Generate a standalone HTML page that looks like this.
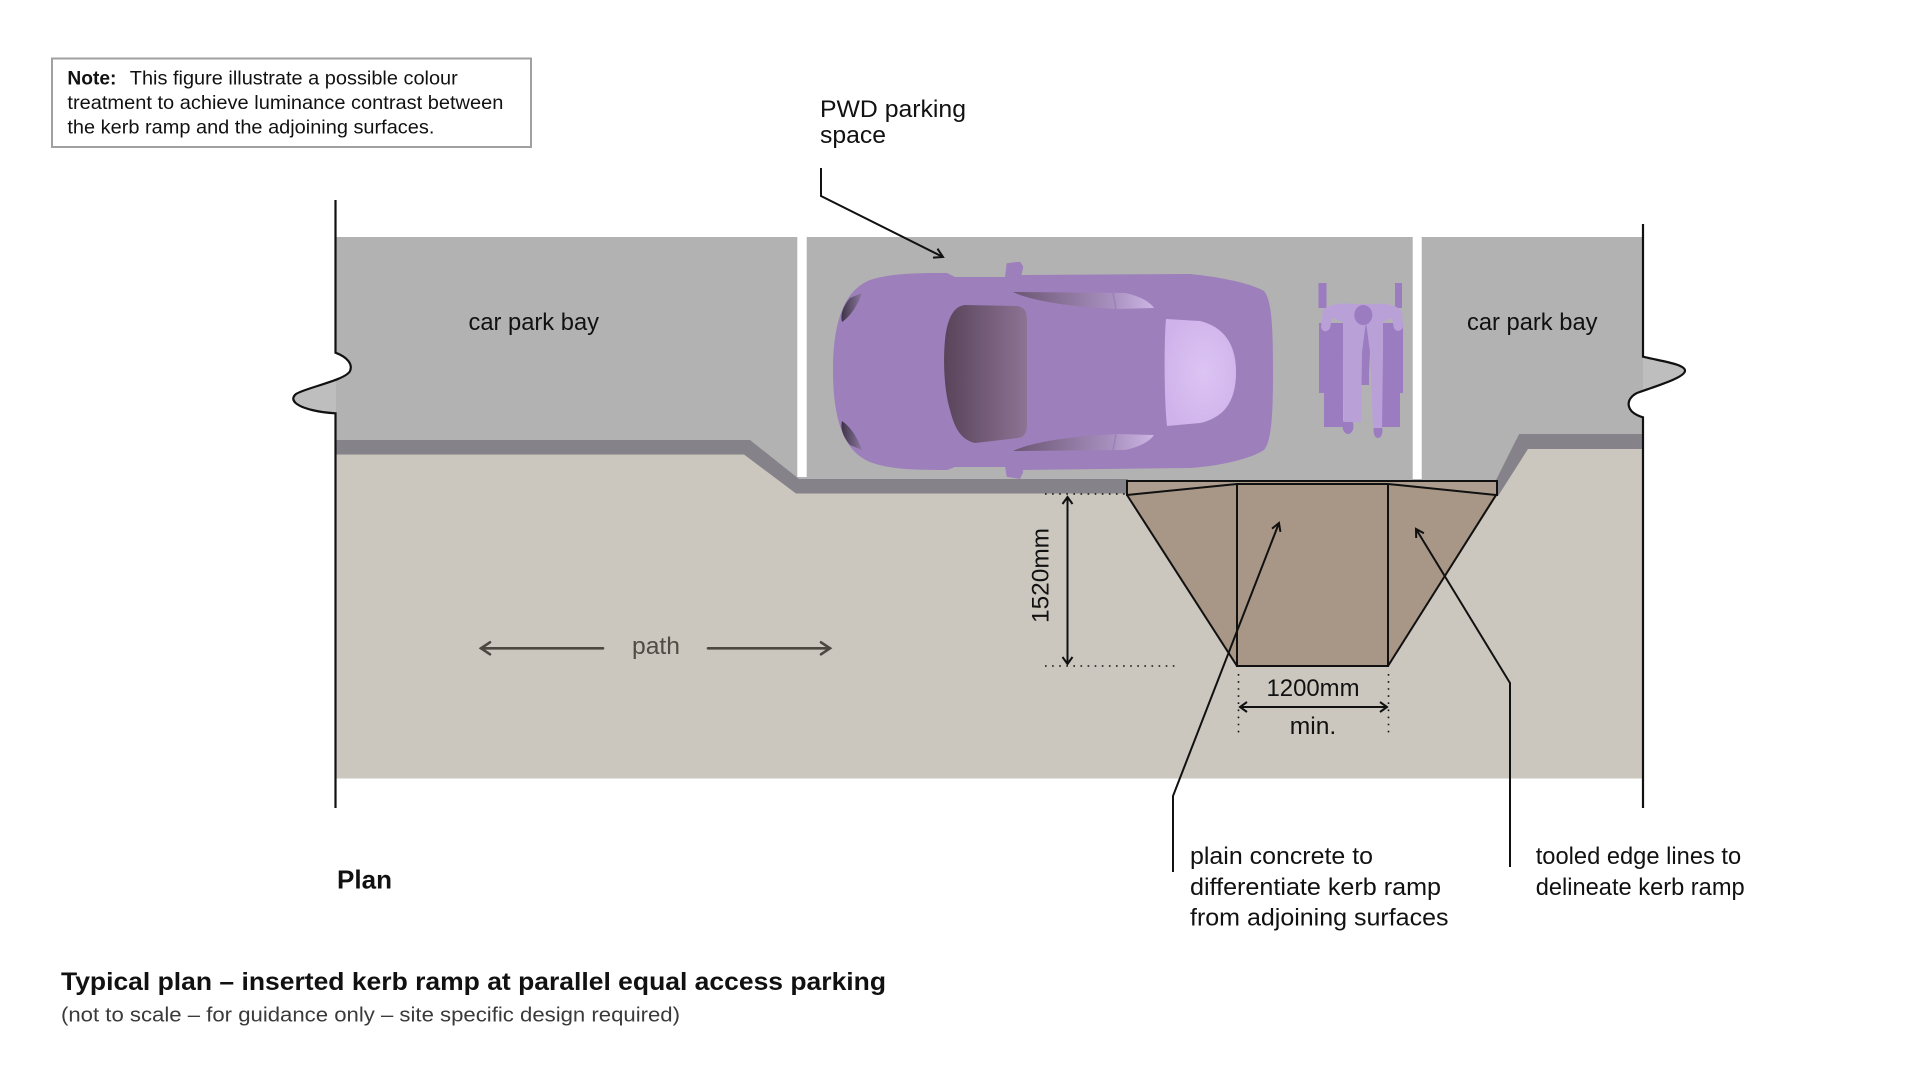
<!DOCTYPE html>
<html>
<head>
<meta charset="utf-8">
<style>
  html, body { margin: 0; padding: 0; background: #ffffff; }
  svg { display: block; }
  text { font-family: "Liberation Sans", Arial, sans-serif; fill: #111111; }
</style>
</head>
<body>
<svg width="1920" height="1080" viewBox="0 0 1920 1080" xmlns="http://www.w3.org/2000/svg">
  <defs>
    <clipPath id="bayclip">
      <path d="M336,237 L1643,237 L1643,356.7 C1660,361 1685,364 1685,370.7 C1685,378 1650,388 1637,393 C1625,399 1625,412 1643,417.3 L1643,434 L1519,434 L1496,480 L799,480 L750,440 L336,440 L336,413.3 C330,413 322,412.5 312,410 C296,406 289,400 296,394 C305,388 346,380 350,371 C353,364 347,357 336,352.7 Z"/>
    </clipPath>
    <linearGradient id="wind" x1="0" y1="0" x2="1" y2="0">
      <stop offset="0" stop-color="#58445a"/>
      <stop offset="1" stop-color="#8e7394"/>
    </linearGradient>
    <radialGradient id="rear" cx="0.55" cy="0.5" r="0.6">
      <stop offset="0" stop-color="#dcc4f4"/>
      <stop offset="1" stop-color="#cfb2ea"/>
    </radialGradient>
    <linearGradient id="side" x1="0" y1="0" x2="1" y2="0">
      <stop offset="0" stop-color="#6a5672"/>
      <stop offset="0.7" stop-color="#a890bf"/>
      <stop offset="1" stop-color="#cdb5e4"/>
    </linearGradient>
    <linearGradient id="head" x1="0" y1="0" x2="1" y2="0">
      <stop offset="0" stop-color="#3f3346"/>
      <stop offset="1" stop-color="#8c78a0"/>
    </linearGradient>
  </defs>

  <!-- Note box -->
  <rect x="52" y="58.5" width="479" height="88.5" fill="#ffffff" stroke="#a0a0a0" stroke-width="2"/>
  <text x="67.4" y="84.5" font-size="19.5" font-weight="bold" textLength="49" lengthAdjust="spacingAndGlyphs">Note:</text>
  <text x="129.8" y="84.5" font-size="19.5" textLength="328" lengthAdjust="spacingAndGlyphs">This figure illustrate a possible colour</text>
  <text x="67.4" y="109" font-size="19.5" textLength="436" lengthAdjust="spacingAndGlyphs">treatment to achieve luminance contrast between</text>
  <text x="67.4" y="133.5" font-size="19.5" textLength="367" lengthAdjust="spacingAndGlyphs">the kerb ramp and the adjoining surfaces.</text>

  <!-- PWD label -->
  <text x="820" y="117" font-size="24" textLength="146" lengthAdjust="spacingAndGlyphs">PWD parking</text>
  <text x="820" y="143" font-size="24" textLength="66" lengthAdjust="spacingAndGlyphs">space</text>

  <!-- Path (beige) -->
  <rect x="336" y="440" width="1307" height="338.5" fill="#cbc7bf"/>

  <!-- Bays -->
  <path d="M336,237 L1643,237 L1643,356.7 C1660,361 1685,364 1685,370.7 C1685,378 1650,388 1637,393 C1625,399 1625,412 1643,417.3 L1643,434 L1519,434 L1496,480 L799,480 L750,440 L336,440 L336,413.3 C330,413 322,412.5 312,410 C296,406 289,400 296,394 C305,388 346,380 350,371 C353,364 347,357 336,352.7 Z" fill="#b2b2b2"/>
  <rect x="280" y="350" width="56" height="70" fill="#bebebe" clip-path="url(#bayclip)"/>
  <rect x="1643" y="350" width="50" height="70" fill="#bebebe" clip-path="url(#bayclip)"/>

  <!-- Kerb bands -->
  <path d="M336,440 L750,440 L799,479 L1128,479 L1128,493.5 L796,493.5 L744,454.5 L336,454.5 Z" fill="#858289"/>
  <path d="M1496,480 L1519,434 L1643,434 L1643,449 L1528,449 L1498,496 Z" fill="#858289"/>

  <!-- White gaps between bays -->
  <rect x="797.3" y="236" width="9.4" height="241" fill="#ffffff"/>
  <rect x="1412.7" y="236" width="9" height="243" fill="#ffffff"/>

  <!-- PWD leader (on top of bay) -->
  <polyline points="821,168 821,196 943,257" fill="none" stroke="#111" stroke-width="2"/>
  <polyline points="937.5,248.7 943,257 933,257.6" fill="none" stroke="#111" stroke-width="2"/>

  <!-- Bay labels -->
  <text x="468.5" y="330" font-size="24" textLength="130.5" lengthAdjust="spacingAndGlyphs">car park bay</text>
  <text x="1467" y="330" font-size="24" textLength="130.5" lengthAdjust="spacingAndGlyphs">car park bay</text>

  <!-- Car -->
  <path d="M1005,277 L1006.7,263.3 L1020,261.7 L1023.3,266.7 L1021,277 Z" fill="#9d7fbb"/>
  <path d="M1005,466 L1006.7,476.7 L1020,479 L1023.3,471.7 L1021,466 Z" fill="#9d7fbb"/>
  <path d="M833,371 C833,320 845,290 870,280 C890,273 920,273 947,273 L955,277 L1005,277 L1022,275 L1190,274 C1220,277 1250,283 1264,291 C1272,300 1273,330 1273,371 C1273,412 1272,440 1264,450 C1250,459 1220,466 1190,468 L1022,470 L1005,467 L955,467 L947,470 C920,470 890,470 870,462 C845,452 833,422 833,371 Z" fill="#9d7fbb"/>
  <path d="M965,305 L1018,306 C1025,308 1027,312 1027,320 L1027,425 C1027,433 1024,437 1018,438 L975,443 C962,440 955,430 950,410 C944,390 943,360 945,340 C947,320 953,306 965,305 Z" fill="url(#wind)"/>
  <path d="M1166,319 L1200,321 C1220,326 1236,340 1236,372 C1236,404 1222,418 1200,423 L1167,426 C1164,400 1164,340 1166,319 Z" fill="url(#rear)"/>
  <path d="M1013,292 L1125,293 C1140,296 1150,302 1154,308 L1118,309 L1100,308 C1060,305 1030,300 1013,292 Z" fill="url(#side)"/>
  <path d="M1013,451 L1125,450 C1140,447 1150,441 1154,435 L1118,434 L1100,435 C1060,438 1030,443 1013,451 Z" fill="url(#side)"/>
  <line x1="1113" y1="293" x2="1116" y2="309" stroke="#9d7fbb" stroke-width="1.5"/>
  <line x1="1113" y1="450" x2="1116" y2="434" stroke="#9d7fbb" stroke-width="1.5"/>
  <path d="M850,298 C843,306 840,315 842,322 C849,317 856,309 862,293 Z" fill="url(#head)"/>
  <path d="M850,445 C843,437 840,428 842,421 C849,426 856,434 862,450 Z" fill="url(#head)"/>

  <!-- Wheelchair + person -->
  <g fill="#9b7cc0">
    <rect x="1318.5" y="283" width="8" height="25"/>
    <rect x="1395" y="283" width="7" height="25"/>
    <rect x="1319" y="323" width="24" height="70"/>
    <rect x="1324" y="390" width="19" height="37"/>
    <rect x="1382" y="323" width="21" height="70"/>
    <rect x="1382" y="390" width="18" height="37"/>
    <rect x="1355" y="345" width="14" height="40"/>
    <ellipse cx="1348" cy="426" rx="5.5" ry="8"/>
    <ellipse cx="1378" cy="431" rx="4.5" ry="7"/>
  </g>
  <g fill="#b9a1d8">
    <path d="M1323,310 C1330,303 1345,303 1352,304 L1374,304 C1385,303 1398,305 1402,312 L1403,327 C1401,332 1396,332 1394,328 L1392,318 L1383,322 L1383,350 L1382,428 L1373,428 L1370,352 L1362,352 L1361,422 L1344,422 L1343,352 L1343,322 L1332,318 L1330,328 C1327,333 1322,332 1321,327 Z"/>
  </g>
  <polygon points="1362,352 1366,322 1370,352 1369,372 1363,372" fill="#9b7cc0"/>
  <ellipse cx="1363.3" cy="315" rx="9" ry="10" fill="#9b7cc0"/>

  <!-- Kerb ramp -->
  <path d="M1127,481 L1497,481 L1497,496 L1388,666 L1237,666 L1127,496 Z" fill="#a89787"/>
  <path d="M1127,481 L1497,481 L1497,496 L1496,495 L1388,484 L1237,484 L1127,495 Z" fill="#ad9d8e"/>
  <g fill="none" stroke="#111" stroke-width="2" stroke-linejoin="miter">
    <polyline points="1127,496 1127,481 1497,481 1497,496"/>
    <polyline points="1127,495 1237,484 1388,484 1496,495"/>
    <line x1="1127" y1="495" x2="1237" y2="666"/>
    <line x1="1496" y1="495" x2="1388" y2="666"/>
    <polyline points="1237,484 1237,666 1388,666 1388,484"/>
  </g>

  <!-- 1520mm dimension -->
  <g stroke="#111" stroke-width="1.6" stroke-dasharray="1.6,5.5" fill="none">
    <line x1="1045" y1="494" x2="1127" y2="494"/>
    <line x1="1045" y1="666" x2="1175" y2="666"/>
    <line x1="1238.5" y1="674" x2="1238.5" y2="734"/>
    <line x1="1388.5" y1="674" x2="1388.5" y2="734"/>
  </g>
  <g stroke="#111" stroke-width="2" fill="none">
    <line x1="1067.5" y1="497" x2="1067.5" y2="664"/>
    <polyline points="1062.5,504 1067.5,497 1072.5,504"/>
    <polyline points="1062.5,657 1067.5,664 1072.5,657"/>
    <line x1="1240" y1="707" x2="1387" y2="707"/>
    <polyline points="1247,702 1240,707 1247,712"/>
    <polyline points="1380,702 1387,707 1380,712"/>
  </g>
  <text transform="translate(1048.6,575.5) rotate(-90)" text-anchor="middle" font-size="24" textLength="95" lengthAdjust="spacingAndGlyphs">1520mm</text>
  <text x="1313" y="696" text-anchor="middle" font-size="24" textLength="93" lengthAdjust="spacingAndGlyphs">1200mm</text>
  <text x="1313" y="734" text-anchor="middle" font-size="24" textLength="46.5" lengthAdjust="spacingAndGlyphs">min.</text>

  <!-- Path label and arrows -->
  <g stroke="#4e4641" stroke-width="2.6" fill="none" stroke-linecap="round">
    <line x1="481" y1="648.3" x2="603" y2="648.3"/>
    <polyline points="490,642.3 481,648.3 490,654.3"/>
    <line x1="708" y1="648.3" x2="830" y2="648.3"/>
    <polyline points="821,642.3 830,648.3 821,654.3"/>
  </g>
  <text x="632" y="654" font-size="24" style="fill:#524a45" textLength="48" lengthAdjust="spacingAndGlyphs">path</text>

  <!-- Boundary lines with break waves -->
  <path d="M335.5,200 L335.5,352.7 C347,357 353,364 350,371 C346,380 305,388 296,394 C289,400 296,406 312,410 C322,412.5 330,413 335.5,413.3 L335.5,808" fill="none" stroke="#111" stroke-width="2.2"/>
  <path d="M1643,224 L1643,356.7 C1660,361 1685,364 1685,370.7 C1685,378 1650,388 1637,393 C1625,399 1625,412 1643,417.3 L1643,808" fill="none" stroke="#111" stroke-width="2.2"/>

  <!-- Leaders -->
  <g stroke="#111" stroke-width="2" fill="none">
    <polyline points="1173,872 1173,796 1279,523"/>
    <polyline points="1272,528.6 1279,523 1280.4,531.9"/>
    <polyline points="1510,867 1510,683 1416,529"/>
    <polyline points="1416.2,538 1416,529 1423.9,533.3"/>
  </g>

  <!-- Bottom right labels -->
  <text x="1190" y="864" font-size="24" textLength="183" lengthAdjust="spacingAndGlyphs">plain concrete to</text>
  <text x="1190" y="895" font-size="24" textLength="251" lengthAdjust="spacingAndGlyphs">differentiate kerb ramp</text>
  <text x="1190" y="925.5" font-size="24" textLength="258.5" lengthAdjust="spacingAndGlyphs">from adjoining surfaces</text>
  <text x="1535.7" y="864" font-size="24" textLength="205.5" lengthAdjust="spacingAndGlyphs">tooled edge lines to</text>
  <text x="1535.7" y="895" font-size="24" textLength="209" lengthAdjust="spacingAndGlyphs">delineate kerb ramp</text>

  <!-- Plan / Title -->
  <text x="337" y="888.5" font-size="26" font-weight="bold" textLength="55" lengthAdjust="spacingAndGlyphs">Plan</text>
  <text x="61" y="990" font-size="25" font-weight="bold" textLength="825" lengthAdjust="spacingAndGlyphs">Typical plan – inserted kerb ramp at parallel equal access parking</text>
  <text x="61" y="1021.5" font-size="20" style="fill:#3a3a3a" textLength="619" lengthAdjust="spacingAndGlyphs">(not to scale – for guidance only – site specific design required)</text>
</svg>
</body>
</html>
